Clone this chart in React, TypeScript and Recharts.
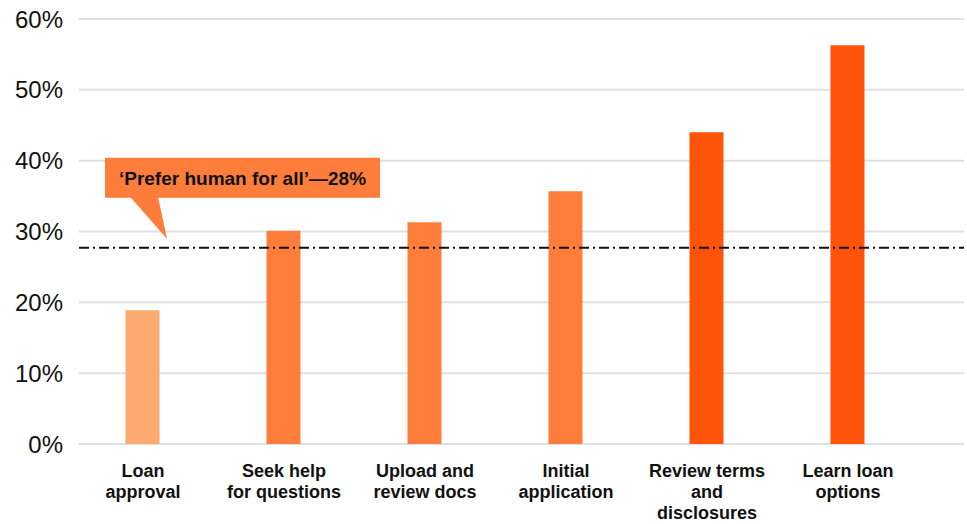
import React from 'react';
import { BarChart, Bar, Cell, XAxis, YAxis, CartesianGrid, ReferenceLine } from 'recharts';

if (typeof document !== 'undefined') document.body.style.margin = '0';

const categories = [
  'Loan approval',
  'Seek help for questions',
  'Upload and review docs',
  'Initial application',
  'Review terms and disclosures',
  'Learn loan options',
];
const tickLines = [
  ['Loan', 'approval'],
  ['Seek help', 'for questions'],
  ['Upload and', 'review docs'],
  ['Initial', 'application'],
  ['Review terms', 'and', 'disclosures'],
  ['Learn loan', 'options'],
];
const shares = [18.9, 30.1, 31.3, 35.7, 44.0, 56.3];
const yTicks = [0, 10, 20, 30, 40, 50, 60];
const preferHumanAll = 27.7;
const calloutText = '‘Prefer human for all’—28%';

const barColors = ['#FDAA71', '#FE7D3B', '#FE7D3B', '#FE7D3B', '#FF5409', '#FF5409'];
const FONT = '"Liberation Sans", Arial, Helvetica, sans-serif';

const data = categories.map((name, i) => ({ idx: i, name, value: shares[i] }));

const CategoryTick = (props: any) => {
  const { x, y, payload } = props;
  const lines = tickLines[payload.value] || [];
  return (
    <text x={x} y={y + 25} textAnchor="middle" fontFamily={FONT} fontSize={18} fontWeight="bold" fill="#111">
      {lines.map((l, i) => (
        <tspan key={i} x={x} dy={i === 0 ? 0 : 21}>
          {l}
        </tspan>
      ))}
    </text>
  );
};

const Callout = (props: any) => {
  const vb = props.viewBox || {};
  const x0 = vb.x ?? 0;
  const y0 = vb.y ?? 0;
  const rx = x0 + 26;
  const ry = y0 - 90;
  return (
    <g>
      <rect x={rx} y={ry} width={275} height={40} fill="#FE7D3B" />
      <polygon
        points={`${x0 + 51},${ry + 39} ${x0 + 79},${ry + 39} ${x0 + 88},${y0 - 9}`}
        fill="#FE7D3B"
      />
      <text
        x={rx + 137.5}
        y={ry + 27}
        textAnchor="middle"
        fontFamily={FONT}
        fontSize={19}
        fontWeight="bold"
        fill="#111"
      >
        {calloutText}
      </text>
    </g>
  );
};

export default function App(): React.JSX.Element {
  return (
    <div style={{ width: 967, height: 524, background: '#fff' }}>
      <BarChart width={967} height={524} data={data} margin={{ top: 19, right: 3, bottom: 0, left: 0 }}>
        <CartesianGrid vertical={false} stroke="#dde1e6" strokeWidth={2} />
        <XAxis
          dataKey="idx"
          type="number"
          domain={[-0.454, 5.823]}
          ticks={[0, 1, 2, 3, 4, 5]}
          allowDataOverflow
          interval={0}
          height={80}
          axisLine={false}
          tickLine={false}
          tick={<CategoryTick />}
        />
        <YAxis
          domain={[0, 60]}
          ticks={yTicks}
          width={79}
          axisLine={false}
          tickLine={false}
          tickMargin={10}
          tickFormatter={(v: number) => `${v}%`}
          tick={{ fill: '#111', fontSize: 24, fontFamily: FONT }}
        />
        <Bar dataKey="value" barSize={34} isAnimationActive={false}>
          {data.map((d, i) => (
            <Cell key={d.name} fill={barColors[i]} />
          ))}
        </Bar>
        <ReferenceLine
          y={preferHumanAll}
          stroke="#111"
          strokeWidth={2}
          strokeDasharray="10 4 2 4"
          label={<Callout />}
        />
      </BarChart>
    </div>
  );
}
